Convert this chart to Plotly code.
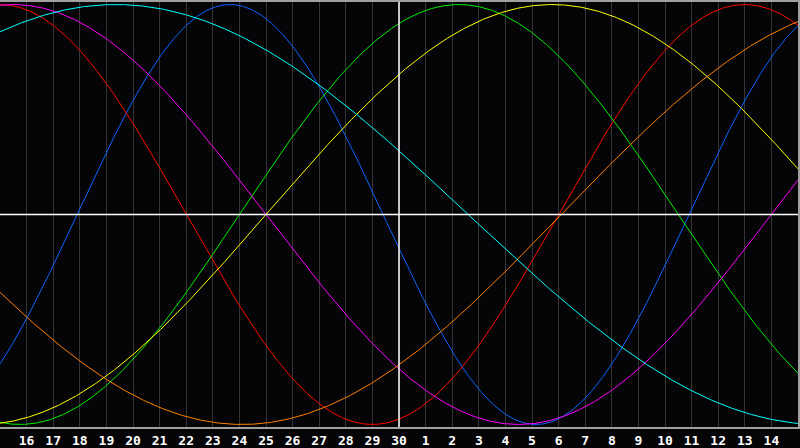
import numpy as np
import plotly.graph_objects as go

# Biorhythm cycles: name, period (days), position (in day units from left edge) of peak
cycle_names = ["Physical", "Emotional", "Intellectual", "Intuitive", "Aesthetic", "Awareness", "Spiritual"]
cycle_periods = [23, 28, 33, 38, 43, 48, 53]
cycle_peaks = [8.65, 28.0, 17.25, 0.5, 20.75, 33.1, 4.35]
cycle_colors = ["#0a64ff", "#ff0000", "#00ee00", "#ff00ff", "#ffff00", "#ff8000", "#00ffff"]

# Day tick labels (left edge = day 15 of previous month, center = day 30)
tick_labels = [str(d) for d in range(16, 31)] + [str(d) for d in range(1, 15)]
tick_positions = list(range(1, 30))
today_pos = 15

x = np.linspace(0, 30, 1201)

fig = go.Figure()
for name, per, pk, col in zip(cycle_names, cycle_periods, cycle_peaks, cycle_colors):
    y = np.cos(2 * np.pi * (x - pk) / per)
    fig.add_trace(go.Scatter(x=x, y=y, mode="lines", name=name,
                             line=dict(color=col, width=1), hoverinfo="skip"))

fig.add_shape(type="line", x0=today_pos, x1=today_pos, y0=0, y1=1, yref="paper",
              line=dict(color="#ffffff", width=1.5))
fig.add_shape(type="line", x0=0, x1=1, xref="paper", y0=0, y1=0,
              line=dict(color="#ffffff", width=1.5))

fig.update_layout(
    width=800, height=448,
    margin=dict(l=0, r=0, t=0, b=20, pad=0),
    paper_bgcolor="#050508", plot_bgcolor="#050508",
    showlegend=False,
    xaxis=dict(range=[0, 30], tickvals=tick_positions, ticktext=tick_labels,
               showgrid=True, gridcolor="#353535", gridwidth=1, zeroline=False,
               showline=True, mirror=True, linecolor="#a0a0a0", linewidth=2,
               ticks="", ticklabelstandoff=0,
               tickfont=dict(color="#ffffff", size=13,
                             family="DejaVu Sans Mono", weight="bold")),
    yaxis=dict(range=[-1.012, 1.012], showticklabels=False, showgrid=False,
               zeroline=False, showline=True, mirror=True, linecolor="#a0a0a0",
               linewidth=2),
)

fig.write_html("out.html", config={"displayModeBar": False},
               post_script="document.body.style.margin='0';document.body.style.background='#050508';")
